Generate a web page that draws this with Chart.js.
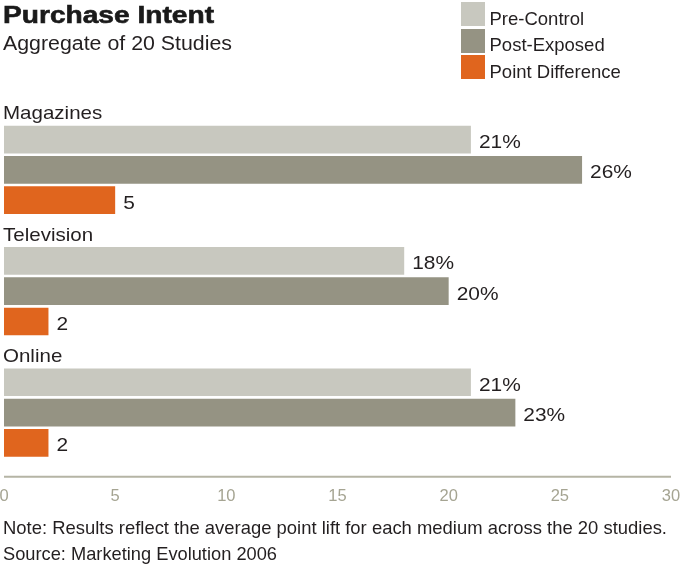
<!DOCTYPE html>
<html>
<head>
<meta charset="utf-8">
<script src="https://cdn.jsdelivr.net/npm/chart.js@4"></script>
<style>
  html, body { margin: 0; padding: 0; background: #fff; }
  #wrap { position: relative; width: 682px; height: 565px; overflow: hidden; font-family: "Liberation Sans", Arial, sans-serif; color: #231f20; }
  #chart { position: absolute; left: 0; top: 0; }
  .t { position: absolute; white-space: nowrap; line-height: 1; transform-origin: 0 0; }
  #title { left: 3px; top: 2.7px; font-size: 24px; font-weight: bold; color: #1a1a1a; -webkit-text-stroke: 0.6px #1a1a1a; }
  #subtitle { left: 3px; top: 33.5px; font-size: 19.5px; }
  #legend { position: absolute; left: 461px; top: 2px; }
  .li { position: relative; height: 26.5px; }
  .sw { position: absolute; left: 0; top: 0; width: 24px; height: 24px; }
  .lt { position: absolute; left: 28.5px; top: 7.8px; font-size: 18.5px; line-height: 1; white-space: nowrap; }
  #note { left: 3px; top: 518.5px; font-size: 18.5px; }
  #source { left: 3px; top: 544.5px; font-size: 18.5px; }
</style>
</head>
<body>
<div id="wrap">
  <canvas id="chart" width="682" height="565"></canvas>
  <div class="t" id="title">Purchase Intent</div>
  <div class="t" id="subtitle">Aggregate of 20 Studies</div>
  <div id="legend"></div>
  <div class="t" id="note">Note: Results reflect the average point lift for each medium across the 20 studies.</div>
  <div class="t" id="source">Source: Marketing Evolution 2006</div>
</div>
<script>
const categories = ["Magazines", "Television", "Online"];
const seriesNames = ["Pre-Control", "Post-Exposed", "Point Difference"];
const preControl = [21, 18, 21];
const postExposed = [26, 20, 23];
const pointDifference = [5, 2, 2];
const xTicks = [0, 5, 10, 15, 20, 25, 30];
const colors = ["#c8c8bf", "#959383", "#e0651e"];
const suffixes = ["%", "%", ""];

const FONT = "'Liberation Sans', Arial, sans-serif";

const labelPlugin = {
  id: "labels",
  afterDatasetsDraw(chart) {
    const ctx = chart.ctx;
    ctx.save();
    ctx.fillStyle = "#231f20";
    ctx.textBaseline = "alphabetic";
    ctx.textAlign = "left";
    // value labels
    ctx.font = "19px " + FONT;
    chart.data.datasets.forEach((ds, di) => {
      const meta = chart.getDatasetMeta(di);
      meta.data.forEach((bar, i) => {
        ctx.save();
        ctx.translate(bar.x + 8, bar.y + 8.5);
        ctx.scale(1.1, 1);
        ctx.fillText(ds.data[i] + suffixes[di], 0, 0);
        ctx.restore();
      });
    });
    // category labels above each group
    const meta0 = chart.getDatasetMeta(0);
    meta0.data.forEach((bar, i) => {
      ctx.save();
      ctx.translate(chart.chartArea.left - 1, bar.y - bar.height / 2 - 6.5);
      ctx.scale(1.08, 1);
      ctx.fillText(chart.data.labels[i], 0, 0);
      ctx.restore();
    });
    // axis line
    const xs = chart.scales.x;
    ctx.strokeStyle = "#b5b4a5";
    ctx.lineWidth = 2;
    ctx.beginPath();
    const y = chart.chartArea.bottom + 3.5;
    ctx.moveTo(xs.getPixelForValue(xTicks[0]), y);
    ctx.lineTo(xs.getPixelForValue(xTicks[xTicks.length - 1]), y);
    ctx.stroke();
    ctx.restore();
  }
};

const chart = new Chart(document.getElementById("chart"), {
  type: "bar",
  data: {
    labels: categories,
    datasets: [
      { label: seriesNames[0], data: preControl, backgroundColor: colors[0] },
      { label: seriesNames[1], data: postExposed, backgroundColor: colors[1] },
      { label: seriesNames[2], data: pointDifference, backgroundColor: colors[2] }
    ]
  },
  options: {
    indexAxis: "y",
    responsive: false,
    animation: false,
    events: [],
    datasets: { bar: { barPercentage: 0.914, categoryPercentage: 0.749 } },
    layout: { padding: { left: 4, right: 11, top: 109.2, bottom: 51.8 } },
    plugins: { legend: { display: false }, tooltip: { enabled: false }, title: { display: false } },
    scales: {
      y: { display: false },
      x: {
        min: xTicks[0], max: xTicks[xTicks.length - 1],
        afterBuildTicks: (s) => { s.ticks = xTicks.map(v => ({ value: v })); },
        afterFit: (s) => { s.height = 40; s.paddingLeft = 0; s.paddingRight = 0; },
        grid: { display: false, drawTicks: false },
        border: { display: false },
        ticks: { color: "#a5a492", padding: 13, font: { size: 16.5, family: FONT }, autoSkip: false, maxRotation: 0 }
      }
    }
  },
  plugins: [labelPlugin]
});

const legend = document.getElementById("legend");
chart.data.datasets.forEach((ds) => {
  const li = document.createElement("div");
  li.className = "li";
  li.innerHTML = '<span class="sw" style="background:' + ds.backgroundColor + '"></span><span class="lt">' + ds.label + '</span>';
  legend.appendChild(li);
});

function fitWidth(el, w) {
  const cur = el.getBoundingClientRect().width;
  el.style.transform = "scaleX(" + (w / cur) + ")";
}
fitWidth(document.getElementById("title"), 211);
fitWidth(document.getElementById("subtitle"), 229);
fitWidth(document.getElementById("note"), 664);
fitWidth(document.getElementById("source"), 274);
</script>
</body>
</html>
